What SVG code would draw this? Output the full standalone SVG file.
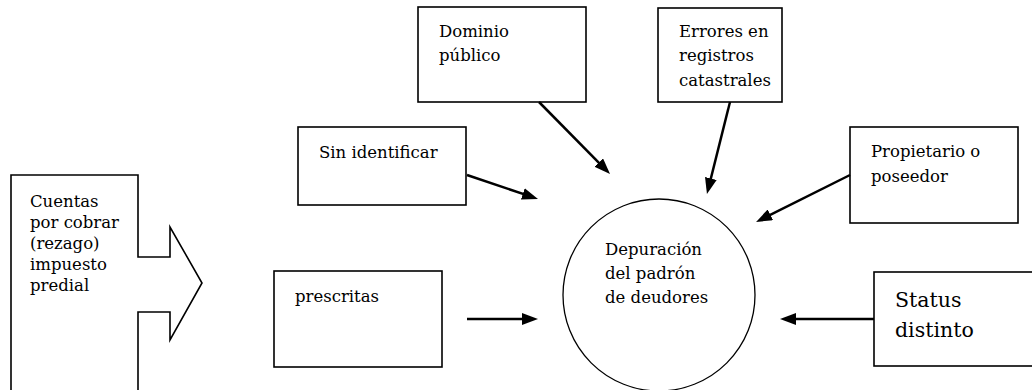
<svg xmlns="http://www.w3.org/2000/svg" width="1032" height="390" viewBox="0 0 1032 390">
<style>
.box{fill:#fff;stroke:#000;stroke-width:1.6}
text{font-family:"DejaVu Serif",serif;font-size:16.5px;fill:#000}
.big{font-size:20.5px}
.con line{stroke:#000;stroke-width:2.5}
</style>
<defs>
<marker id="ah" viewBox="0 0 16 12" refX="8" refY="6" markerWidth="16" markerHeight="12" markerUnits="userSpaceOnUse" orient="auto"><path d="M0,0 L16,6 L0,12 z" fill="#000"/></marker>
</defs>
<rect width="1032" height="390" fill="#fff"/>
<g id="cuentas">
<polygon class="box" points="11,175 138,175 138,257 170,257 170,227 202,283 170,340 170,312 138,312 138,395 11,395"/>
<text><tspan x="30" y="207">Cuentas</tspan><tspan x="30" y="228">por cobrar</tspan><tspan x="30" y="249">(rezago)</tspan><tspan x="30" y="270">impuesto</tspan><tspan x="30" y="291">predial</tspan></text>
</g>
<g id="dominio">
<rect class="box" x="418" y="7" width="168" height="95"/>
<text><tspan x="439" y="37">Dominio</tspan><tspan x="439" y="61">público</tspan></text>
</g>
<g id="errores">
<rect class="box" x="658" y="8" width="124" height="94"/>
<text><tspan x="679" y="37">Errores en</tspan><tspan x="679" y="61">registros</tspan><tspan x="679" y="86">catastrales</tspan></text>
</g>
<g id="sin">
<rect class="box" x="298" y="127" width="168" height="78"/>
<text x="319" y="158">Sin identificar</text>
</g>
<g id="propietario">
<rect class="box" x="850" y="127" width="168" height="96"/>
<text><tspan x="871" y="157">Propietario o</tspan><tspan x="871" y="182">poseedor</tspan></text>
</g>
<g id="prescritas">
<rect class="box" x="274" y="271" width="168" height="96"/>
<text x="295" y="302">prescritas</text>
</g>
<g id="status">
<rect class="box" x="874" y="272" width="170" height="94"/>
<text class="big"><tspan x="895" y="307">Status</tspan><tspan x="895" y="337">distinto</tspan></text>
</g>
<g id="depuracion">
<circle cx="659" cy="295" r="96" fill="#fff" stroke="#000" stroke-width="1.3"/>
<text><tspan x="605" y="255">Depuración</tspan><tspan x="605" y="279">del padrón</tspan><tspan x="605" y="303">de deudores</tspan></text>
</g>
<g id="connectors" class="con">
<line x1="467" y1="175" x2="530.4" y2="196.4" marker-end="url(#ah)"/>
<line x1="539" y1="102" x2="604.4" y2="168.3" marker-end="url(#ah)"/>
<line x1="730" y1="102" x2="708.9" y2="186.2" marker-end="url(#ah)"/>
<line x1="850" y1="175" x2="763.2" y2="218.4" marker-end="url(#ah)"/>
<line x1="467" y1="319" x2="530" y2="319" marker-end="url(#ah)"/>
<line x1="874" y1="319" x2="788" y2="319" marker-end="url(#ah)"/>
</g>
</svg>
